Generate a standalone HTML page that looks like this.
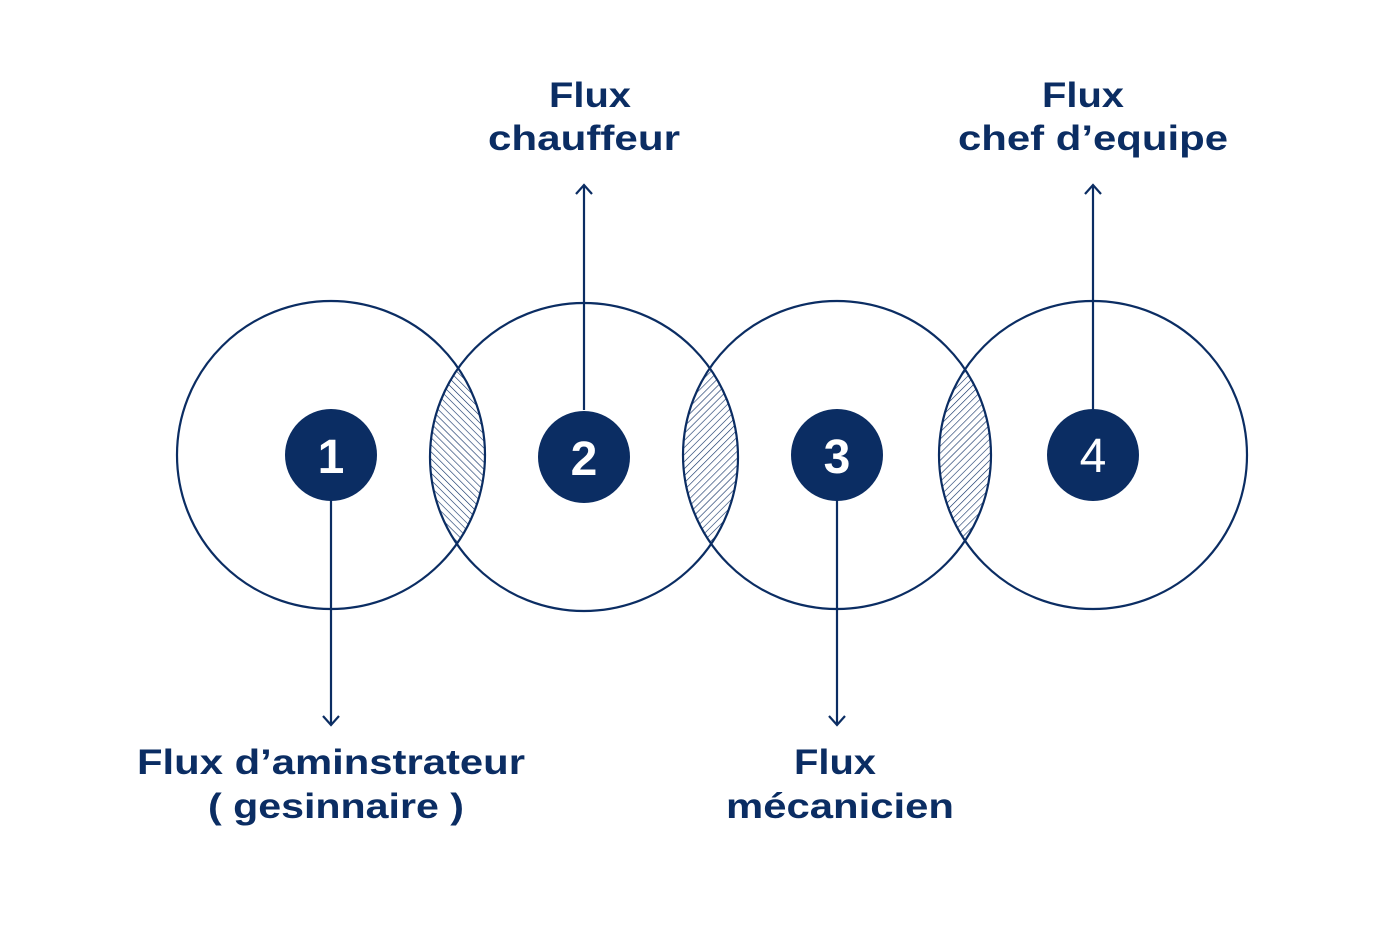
<!DOCTYPE html>
<html><head><style>
html,body{margin:0;padding:0;background:#fff;}
svg{display:block;}
text{font-family:"Liberation Sans",sans-serif;font-weight:bold;fill:#0b2d63;}
</style></head><body>
<svg width="1390" height="947" viewBox="0 0 1390 947" xmlns="http://www.w3.org/2000/svg">
<defs>
<pattern id="h1" width="5" height="5" patternUnits="userSpaceOnUse" patternTransform="rotate(-45)">
<line x1="0" y1="0" x2="0" y2="5" stroke="#0b2d63" stroke-width="1.2"/></pattern>
<pattern id="h2" width="5" height="5" patternUnits="userSpaceOnUse" patternTransform="rotate(45)">
<line x1="0" y1="0" x2="0" y2="5" stroke="#0b2d63" stroke-width="1.2"/></pattern>
<clipPath id="c1"><circle cx="331" cy="455" r="154"/></clipPath>
<clipPath id="c2"><circle cx="584" cy="457" r="154"/></clipPath>
<clipPath id="c3"><circle cx="837" cy="455" r="154"/></clipPath>
</defs>
<g fill="none" stroke="#0b2d63" stroke-width="2.2">
<circle cx="584" cy="457" r="154" fill="url(#h1)" clip-path="url(#c1)" stroke="none"/>
<circle cx="837" cy="455" r="154" fill="url(#h2)" clip-path="url(#c2)" stroke="none"/>
<circle cx="1093" cy="455" r="154" fill="url(#h2)" clip-path="url(#c3)" stroke="none"/>
<circle cx="331" cy="455" r="154"/>
<circle cx="584" cy="457" r="154"/>
<circle cx="837" cy="455" r="154"/>
<circle cx="1093" cy="455" r="154"/>
<line x1="331" y1="500" x2="331" y2="725"/>
<polyline points="323,716 331,725 339,716"/>
<line x1="837" y1="500" x2="837" y2="725"/>
<polyline points="829,716 837,725 845,716"/>
<line x1="584" y1="410" x2="584" y2="185"/>
<polyline points="576,194 584,185 592,194"/>
<line x1="1093" y1="410" x2="1093" y2="185"/>
<polyline points="1085,194 1093,185 1101,194"/>
</g>
<g fill="#0b2d63">
<circle cx="331" cy="455" r="46"/>
<circle cx="584" cy="457" r="46"/>
<circle cx="837" cy="455" r="46"/>
<circle cx="1093" cy="455" r="46"/>
</g>
<g text-anchor="middle" font-size="48">
<text x="331" y="473" style="fill:#fff">1</text>
<text x="584" y="475" style="fill:#fff">2</text>
<text x="837" y="473" style="fill:#fff">3</text>
<text x="1093" y="472" style="fill:#fff;font-weight:normal">4</text>
</g>
<g font-size="35" lengthAdjust="spacingAndGlyphs">
<text x="549" y="107" textLength="82" lengthAdjust="spacingAndGlyphs">Flux</text>
<text x="488" y="150" textLength="192" lengthAdjust="spacingAndGlyphs">chauffeur</text>
<text x="1042" y="107" textLength="82" lengthAdjust="spacingAndGlyphs">Flux</text>
<text x="958" y="150" textLength="270" lengthAdjust="spacingAndGlyphs">chef d’equipe</text>
<text x="137" y="774" textLength="388" lengthAdjust="spacingAndGlyphs">Flux d’aminstrateur</text>
<text x="208" y="818" textLength="256" lengthAdjust="spacingAndGlyphs">( gesinnaire )</text>
<text x="794" y="774" textLength="82" lengthAdjust="spacingAndGlyphs">Flux</text>
<text x="726" y="818" textLength="228" lengthAdjust="spacingAndGlyphs">mécanicien</text>
</g>
</svg>
</body></html>
